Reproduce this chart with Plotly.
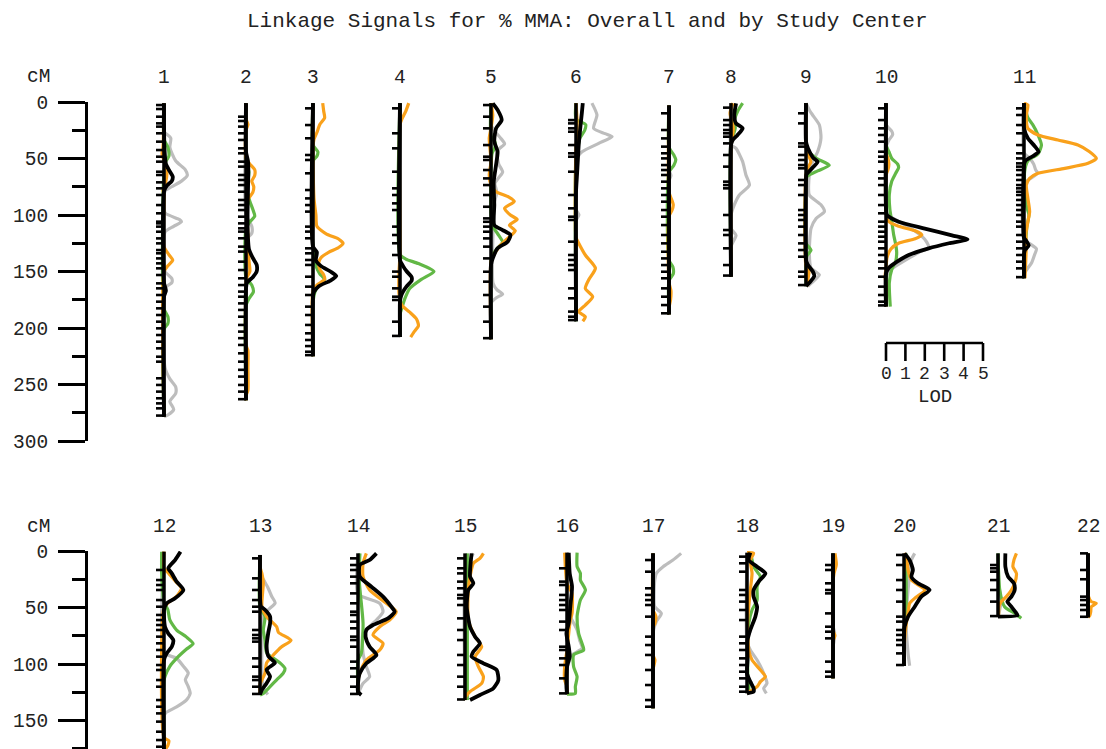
import plotly.graph_objects as go

# ---------------- data ----------------
TITLE = "Linkage Signals for % MMA: Overall and by Study Center"
TOP_CHROMS = ["1", "2", "3", "4", "5", "6", "7", "8", "9", "10", "11"]
BOTTOM_CHROMS = ["12", "13", "14", "15", "16", "17", "18", "19", "20", "21", "22"]
CM_TICKS_TOP = [0, 50, 100, 150, 200, 250, 300]
CM_TICKS_BOTTOM = [0, 50, 100, 150]
LOD_TICKS = [0, 1, 2, 3, 4, 5]

# chromosome extent (start cM, end cM)
CHR_SPAN = {
    "1": (1, 278.5), "2": (1, 264), "3": (1, 225), "4": (1, 208), "5": (1, 210),
    "6": (1, 194), "7": (3, 188), "8": (1, 154.6), "9": (1, 163), "10": (1, 181),
    "11": (1, 156), "12": (0.6, 180), "13": (3.5, 127.4), "14": (2.1, 127.4),
    "15": (2.1, 131.9), "16": (1.5, 126.6), "17": (2.1, 139.2), "18": (1.5, 126),
    "19": (2.1, 112.7), "20": (2.1, 101.8), "21": (2.1, 58.1), "22": (2.1, 58.7),
}

# marker positions (cM)
MARKERS = {
    "1": [2.7, 6.2, 13, 18.9, 21.8, 27.7, 35.1, 42.5, 48.4, 52.8, 61.7, 64.6, 71.1, 76.4, 82.3,
          91.2, 98.5, 105.9, 107.4, 110.3, 114.8, 120.7, 125.1, 131, 133.9, 138.4, 142.8, 147.2,
          153.1, 160.5, 164.9, 170.8, 176.7, 182.6, 188.5, 194.4, 200.3, 206.2, 212.1, 218,
          225.4, 229.8, 244.5, 250.4, 256.3, 262.2, 266.7, 271.1, 277.5],
    "2": [13, 16.8, 21.8, 27.7, 33.6, 41, 45.4, 52.8, 57.2, 64.6, 69, 73.5, 79.4, 86.7, 91.2,
          95.6, 101.5, 107.4, 111.8, 114.7, 120.6, 128, 132.4, 141.3, 148.7, 156, 162, 167.8,
          172.3, 178.2, 184, 190, 197.3, 203.2, 209, 215, 222.4, 229.8, 237, 243, 250.4,
          256.3, 263],
    "3": [5.6, 20.4, 32.1, 46.9, 51.3, 63.1, 77.9, 85.3, 91.2, 97, 110.3, 114.7, 120.6, 129.5,
          133.9, 139.8, 144.2, 154.6, 163.4, 170.8, 181.1, 188.5, 197.3, 204.7, 210.6, 216,
          221, 224],
    "4": [5.6, 27.7, 41, 61.7, 76.4, 82.3, 89.7, 95.6, 110.3, 117.7, 125, 135.4, 150.1, 154.6,
          164.9, 172.3, 175.2, 194.4, 207],
    "5": [2.7, 13, 23.3, 38.1, 48.4, 51.3, 60.2, 67.6, 73.5, 82.3, 92.7, 103, 106, 110.3,
          114.8, 120.7, 128, 138.4, 150.2, 159, 170.8, 181.1, 194.4, 209],
    "6": [16, 18.9, 23.3, 26.3, 38.1, 45.4, 48.4, 61.7, 82.3, 94.1, 101.5, 104.4, 123.6,
          135.4, 139.8, 144.3, 148.7, 164.9, 173.7, 185.5, 190, 193],
    "7": [10, 24.8, 32.2, 39.5, 45.4, 49.9, 55.8, 60.2, 64.6, 70.5, 76.4, 82.3, 88.2, 95.6,
          101.5, 108.9, 117.7, 125.1, 132.5, 138.4, 144.3, 150.2, 156, 164.9, 172.3, 179.7, 187],
    "8": [5, 16, 20.4, 24.8, 27.7, 30.7, 36.6, 46.9, 57.2, 70.5, 73.5, 76.4, 100, 113.3,
          117.7, 129.5, 144.3, 153.6],
    "9": [10, 18.9, 36.6, 39.5, 46.9, 51.3, 55.8, 58.7, 69, 73.5, 82.3, 95.6, 100, 104.4,
          110.3, 117.7, 125.1, 131, 136.9, 150.2, 154.6, 162],
    "10": [5.6, 16, 23.3, 29.2, 35.1, 44, 48.4, 52.8, 61.7, 67.6, 73.5, 82.3, 91.2, 98.5,
           105.9, 110.3, 114.8, 119.2, 123.6, 129.5, 135.4, 141.3, 147.2, 154.6, 163.4,
           170.8, 176.7, 180],
    "11": [5.6, 11.5, 20.4, 27.7, 38.1, 45.4, 49.9, 54.3, 57.2, 60.2, 64.6, 69, 73.5, 76.4,
           79.4, 82.3, 86.7, 91.2, 95.6, 100, 105.9, 110.3, 117.7, 123.6, 129.5, 135.4,
           141.3, 147.2, 155],
    "12": [16.8, 25.7, 30.1, 34.5, 43.4, 49.3, 56.6, 61.1, 65.5, 69.9, 75.8, 81.7, 87.6,
           93.5, 100.9, 105.3, 114.2, 120.1, 131.9, 137.8, 143.7, 151, 159.9, 167.3, 173.2],
    "13": [6.5, 24.2, 34.5, 43.4, 49.3, 53.7, 69.9, 74.3, 77.3, 80.2, 95, 102.4, 111.2,
           114.2, 120.1, 126.5],
    "14": [6.5, 12.4, 16.8, 22.7, 28.6, 37.5, 46.3, 53.7, 56.6, 62.5, 68.4, 75.8, 78.8, 84.7,
           97.9, 103.8, 111.2, 120.1, 126.5],
    "15": [6.5, 15.3, 19.8, 27.1, 33, 38.9, 41.9, 47.8, 59.6, 69.9, 78.8, 92, 100.9, 111.2,
           120.1, 131.4],
    "16": [15.3, 27.1, 30.1, 38.9, 43.4, 47.8, 52.2, 62.5, 69.9, 84.7, 87.6, 95, 100.9,
           112.7, 126],
    "17": [8, 18.3, 33, 38.9, 43.4, 47.8, 58.1, 75.8, 83.2, 92, 105.3, 118.6, 131.9, 137.8],
    "18": [5, 10.9, 18.3, 34.5, 38.9, 44.8, 52.2, 61.1, 75.8, 81.7, 87.6, 95, 100.9, 106.8,
           112.7, 120.1, 124.5],
    "19": [12.4, 16.8, 28.6, 34.5, 37.5, 55.2, 67, 71.4, 77.3, 97.9, 106.8, 111.2],
    "20": [3.5, 12.4, 25.7, 34.5, 44.8, 58.1, 62.5, 69.9, 74.3, 78.8, 83.2, 90.6, 100.9],
    "21": [12.4, 15.3, 18.3, 25.7, 34.5, 44.8, 57.6],
    "22": [2.1, 16.8, 25, 40.4, 43.4, 47.8, 52.2, 58.2],
}

# LOD curves: [cM, LOD] pairs, one dict per series (study centre / overall)
GRAY = {
    "1": [[26, 0], [32, 0.35], [40, 0.3], [52, 0.6], [60, 1.1], [65, 1.2], [70, 0.9], [75, 0.4],
          [79, 0.05], [98, 0.05], [104, 0.8], [106, 0.9], [110, 0.5], [115, 0.05], [150, 0.05],
          [156, 0.4], [160, 0.4], [164, 0.1], [235, 0.05], [245, 0.3], [252, 0.6], [258, 0.6],
          [265, 0.3], [272, 0.5], [277, 0.2]],
    "2": [[100, 0], [110, 0.3], [116, 0.3], [122, 0], [140, 0], [148, 0.1], [155, 0]],
    "5": [[20, 0], [26, 0.2], [32, 0.5], [37, 0.7], [41, 0.45], [45, 0.3], [55, 0.4], [62, 0.6],
          [67, 0.4], [72, 0.2], [80, 0.3], [90, 0.15], [100, 0.1], [115, 0.1], [160, 0.1],
          [166, 0.3], [170, 0.6], [173, 0.3], [178, 0]],
    "6": [[1, 0.82], [11.5, 1.08], [23.3, 0.91], [28, 1.5], [30.7, 1.86], [36.6, 1.17],
          [44, 0.31], [48.4, 0.1], [55, 0], [95, 0], [100, 0.15], [105, 0]],
    "7": [[60, 0], [65, 0.1], [70, 0]],
    "8": [[38, 0], [41, 0.26], [52.8, 0.6], [64.6, 0.77], [73.5, 0.95], [82.3, 0.43],
          [91, 0.17], [100, 0], [112, 0], [118, 0.26], [124, 0.1], [128, 0]],
    "9": [[1, 0], [8, 0.2], [11.5, 0.34], [20.4, 0.69], [32, 0.77], [44, 0.6], [52.8, 0.34],
          [64.6, 0.17], [82.3, 0.17], [91, 0.77], [97, 0.95], [103, 0.52], [111.8, 0.26],
          [132.5, 0.17], [147, 0.26], [153, 0.69], [160.5, 0.26], [163, 0.1]],
    "10": [[20, 0], [26, 0.3], [29, 0.34], [34, 0.14], [40, 0], [95, 0], [100, 0.1], [106, 0.7],
           [112, 1.3], [118, 1.8], [124, 2.1], [129, 2.2], [133, 1.7], [140, 1.0], [147, 0.35],
           [153, 0.05], [158, 0]],
    "11": [[45, 0], [50, 0.3], [55, 0.5], [60, 0.6], [63, 0.7], [68, 0.3], [72, 0], [122, 0],
           [126, 0.35], [130, 0.64], [135, 0.55], [142, 0.4], [147, 0.2], [152, 0]],
    "12": [[90, 0], [95, 0.65], [102, 1.0], [108, 1.25], [114, 1.1], [120, 1.25], [126, 1.35],
           [132, 1.15], [138, 0.65], [143, 0.1], [146, 0]],
    "13": [[20, 0], [26, 0.2], [32, 0.4], [40, 0.6], [46, 0.78], [52, 0.43], [58, 0.17],
           [80, 0.1], [120, 0.15], [127, 0.4]],
    "14": [[38, 0], [46.3, 1.12], [53.7, 1.29], [61.1, 0.95], [72.9, 0.26], [90.6, 0.26],
           [102.4, 0.43], [111.2, 0.6], [117.1, 0.26], [123, 0.09]],
    "15": [[2.1, 0.43], [10.9, 0.17], [20, 0]],
    "16": [[50, 0], [58.1, 0.17], [69.9, 0.52], [78.8, 0.65], [86.1, 0.78], [92, 0.26],
           [102.4, 0.03]],
    "17": [[2.1, 1.45], [8, 1.03], [13.9, 0.52], [19.8, 0.17], [25.7, 0.09], [49.3, 0.09],
           [55.2, 0.43], [62.5, 0.17], [69.9, 0.03]],
    "18": [[80, 0], [87.6, 0.17], [96.5, 0.52], [108.3, 0.86], [117.1, 1.03], [121.5, 0.86],
           [126, 1.0]],
    "19": [[66, 0], [72, 0.08], [80, 0.05], [85, 0]],
    "20": [[2.1, 0.55], [8, 0.38], [19.8, 0.29], [34.5, 0.21], [60, 0.1], [90.6, 0.21],
           [101.5, 0.29]],
    "21": [[30, 0.05], [45, 0.15], [55, 0.05]],
}

GREEN = {
    "1": [[33, 0], [40, 0.2], [48, 0.25], [54, 0.05], [183, 0], [190, 0.2], [196, 0.2], [201, 0]],
    "2": [[50, 0], [55, 0.05], [62, 0.15], [70, 0.1], [78, 0.05], [88, 0.2], [95, 0.35],
          [101, 0.45], [106, 0.2], [112, 0], [155, 0], [162, 0.3], [168, 0.38], [174, 0.15],
          [180, 0]],
    "3": [[38, 0], [44, 0.25], [48, 0.2], [52, 0], [128, 0], [135, 0.1], [145, 0.15],
          [152, 0.35], [157, 0.6], [162, 0.3], [168, 0.1], [178, 0]],
    "4": [[135, 0], [139, 0.3], [143, 0.95], [150, 1.75], [157, 1.1], [165, 0.5], [174, 0.25],
          [182, 0.1], [188, 0]],
    "5": [[30, 0], [35, 0.2], [40, 0.2], [46, 0.05], [100, 0], [110, 0.1], [118, 0.4],
          [124, 0.6], [130, 0.3], [136, 0.05], [140, 0]],
    "6": [[15, 0], [20, 0.5], [25, 0.45], [32, 0.2], [40, 0.1], [48, 0]],
    "7": [[40, 0], [47, 0.25], [51, 0.35], [56, 0.25], [62, 0], [140, 0], [146, 0.2],
          [152, 0.22], [158, 0]],
    "8": [[1, 0.6], [8, 0.35], [17, 0.17], [23, 0.22], [29, 0.12], [35, 0]],
    "9": [[35, 0], [44, 0.15], [50, 0.55], [56, 1.2], [61, 0.6], [66, 0.05], [72, 0],
          [125, 0], [131, 0.26], [136, 0.05], [140, 0]],
    "10": [[38, 0], [44, 0.15], [50, 0.3], [55, 0.6], [58, 0.65], [63, 0.5], [70, 0.3],
           [82, 0.17], [95, 0.2], [106, 0.3], [118, 0.4], [126, 0.5], [133, 0.55], [141, 0.5],
           [148, 0.3], [160, 0.17], [181, 0.22]],
    "11": [[1, 0], [8, 0.1], [14, 0.2], [20, 0.45], [29, 0.72], [38, 0.9], [46, 0.72],
           [52, 0.2], [62, 0.03], [90, 0.1], [100, 0.25], [110, 0.15], [120, 0.1], [130, 0.05],
           [156, 0]],
    "12": [[0.6, -0.12], [20, -0.12], [45, 0], [52, 0.2], [61, 0.3], [70, 0.65], [76, 1.15],
           [82, 1.5], [87, 1.15], [95, 0.65], [102, 0.3], [111, 0.05], [115, 0]],
    "13": [[50, 0], [58, 0.26], [70, 0.17], [79, 0.26], [90, 0.34], [99, 1.03], [104, 1.29],
           [108, 1.2], [114, 0.86], [120, 0.52], [126, 0.17]],
    "14": [[2.1, 0.1], [22.7, 0.05], [37.5, 0.12], [64, 0.26], [90.6, 0.17], [96.5, 0]],
    "15": [[2.1, 0.12], [131.9, 0.12]],
    "16": [[1.5, 0.52], [13.9, 0.52], [19.8, 0.69], [25.7, 0.69], [34.5, 0.95], [43.4, 0.69],
           [58.1, 0.52], [72.9, 0.6], [81.7, 0.77], [87.6, 0.86], [92, 0.34], [102.4, 0.34],
           [111.2, 0.52], [120.1, 0.43], [126, 0.43]],
    "18": [[2.1, 0.17], [13.9, 0.34], [22.7, 0.69], [31.6, 0.52], [43.4, 0.52], [52.2, 0.26],
           [64, 0.09], [78.8, 0.03], [114, 0.05], [121, 0.1]],
    "20": [[2.1, 0.1], [60, 0.1], [70, 0]],
    "21": [[2.1, 0], [34.5, 0.09], [49.3, 0.34], [55.2, 0.86], [59.6, 1.2]],
}

ORANGE = {
    "1": [[40, -0.05], [46, -0.1], [52, 0], [57, 0.1], [62, 0.15], [70, 0.1], [78, -0.05],
          [82, 0], [128, 0], [135, 0.25], [140, 0.45], [145, 0.2], [150, 0]],
    "2": [[15, 0], [20, 0.1], [25, 0], [50, 0], [55, 0.2], [60, 0.45], [65, 0.45], [70, 0.3],
          [75, 0.4], [80, 0.35], [85, 0.15], [90, 0.05], [120, 0.1], [140, 0.15], [150, 0.2],
          [155, 0.05], [160, 0], [215, 0], [220, 0.1], [235, 0.1], [255, 0.1], [260, 0]],
    "3": [[1, 0.5], [8, 0.55], [14, 0.6], [20, 0.35], [27, 0.2], [33, 0.05], [40, 0],
          [85, 0.05], [100, 0.15], [110, 0.2], [117, 0.7], [121, 1.3], [125, 1.55], [129, 1.3],
          [133, 0.8], [138, 0.4], [142, 0.3], [148, 0.35], [153, 0.55], [157, 0.6], [162, 0.2],
          [167, 0]],
    "4": [[1, 0.45], [8, 0.3], [15, 0.1], [20, 0], [135, 0], [150, -0.05], [170, -0.05],
          [180, 0.1], [186, 0.5], [192, 0.85], [198, 0.95], [204, 0.7], [208, 0.55]],
    "5": [[1, 0], [11.5, 0.09], [23.3, 0], [32, -0.09], [52.8, 0], [64.6, -0.09], [73.5, 0],
          [79.4, 0.26], [84, 0.9], [88, 1.2], [94, 0.7], [100, 1.0], [104, 1.35], [109, 0.95],
          [114, 1.25], [120, 0.9], [128, 0.43], [135.4, 0.14], [141.3, 0]],
    "6": [[15, 0.05], [30, 0.05], [40, 0], [120, 0], [123.6, 0.1], [135.4, 0.48], [147, 1.0],
          [157.5, 0.65], [165, 0.48], [172.3, 0.86], [179.7, 0.48], [185.5, 0.14], [190, 0.48],
          [194, 0.35]],
    "7": [[80, 0], [87, 0.15], [91, 0.22], [96, 0.15], [101, 0], [160, 0], [167, 0.1],
          [175, 0.08], [182, 0]],
    "8": [[1, 0.1], [10, -0.05], [23, 0.12], [33, 0.05], [40, 0]],
    "9": [[40, 0], [46, 0.1], [53, 0.25], [58, 0.1], [64, 0], [145, 0], [150, 0.15],
          [157, 0.1], [163, 0.05]],
    "10": [[45, 0], [50, 0.1], [55, 0.15], [60, 0.1], [65, 0], [98, 0], [105, 0.1], [110, 0.65],
           [114, 1.5], [117.7, 1.85], [121, 1.5], [125, 0.65], [130, 0.25], [138, 0.05],
           [147, 0], [155, -0.05], [160, 0]],
    "11": [[2.7, 0.2], [11.5, 0.12], [23.3, 0.2], [29.2, 0.72], [33.6, 1.75], [38, 2.78],
           [44, 3.38], [49.9, 3.73], [54.3, 3.3], [58.7, 2.1], [63.1, 0.72], [67.6, 0.29],
           [73.5, 0.12], [85.3, 0.2], [97, 0.29], [106, 0.2], [117.7, 0.09], [123.6, 0.12],
           [156, 0.05]],
    "12": [[15, 0], [20, 0.25], [27, 0.6], [33, 0.9], [40, 0.65], [46, 0.2], [50, 0], [165, 0],
           [168, 0.25], [172, 0.2], [175, 0.1]],
    "13": [[14, 0], [20, 0.1], [28, 0.17], [49, 0.1], [58, 0.34], [67, 0.86], [72, 0.95],
           [79, 1.6], [85, 1.1], [92, 0.69], [99, 0.34], [108, 0.26], [114, 0.1], [118, 0]],
    "14": [[2.1, 0.43], [10.9, 0.26], [22.7, 0.26], [34.5, 0.6], [46.3, 1.46], [53.7, 1.97],
           [61.1, 1.63], [67, 1.12], [74.3, 0.77], [81.7, 1.29], [87.6, 1.12], [96.5, 0.43],
           [108.3, 0.09], [115, 0]],
    "15": [[2.1, 0.95], [6.5, 0.77], [10.9, 0.43], [22.7, 0.26], [34.5, 0.17], [61.1, 0.17],
           [75.8, 0.52], [84.7, 0.86], [93.5, 0.52], [102.4, 0.69], [111.2, 0.95], [117.1, 0.86],
           [124.5, 0.26], [130.4, 0]],
    "16": [[1.5, -0.12], [28.6, 0], [37.5, 0.26], [55.2, 0.26], [61.1, 0.17], [87.6, 0],
           [102.4, -0.12], [114.2, -0.12], [120, 0]],
    "17": [[52, 0], [58, 0.15], [64, 0.1], [68, 0], [92, 0], [96.5, 0.1], [101, 0.05], [105, 0]],
    "18": [[2.1, 0.34], [8, 0.17], [19.8, 0.26], [34.5, 0.17], [49.3, 0.09], [64, 0.03],
           [87.6, 0.09], [96.5, 0.26], [105.3, 0.69], [111.2, 0.95], [115.6, 0.69], [120.1, 0.52]],
    "19": [[2.1, 0.1], [12, 0.17], [20, 0.05], [28, 0], [70, 0], [75, 0.1], [80, 0]],
    "20": [[5, 0.12], [16.8, 0.21], [25.7, 0.38], [34.5, 1.07], [41.9, 0.55], [46.3, 0.29],
           [55.2, 0.21], [64, 0.12], [78.8, 0.03]],
    "21": [[2.1, 0.95], [8, 0.82], [13.9, 0.77], [19.8, 0.95], [28.6, 0.86], [34.5, 0.69],
           [40.4, 0.43], [44.8, 0.17], [49.3, 0.05], [56.6, 0.03]],
    "22": [[35, 0], [40.4, 0.03], [44.8, 0.17], [46.3, 0.43], [49.3, 0.17], [53.7, 0.14],
           [57, 0.09]],
}

BLACK = {
    "1": [[1, 0], [40, 0.02], [55, 0.1], [60, 0.25], [66, 0.45], [70, 0.4], [74, 0.15], [79, 0],
          [160, 0], [167, 0.1], [172, 0]],
    "2": [[1, 0], [44, 0], [52, 0.1], [60, 0.12], [100, 0.08], [120, 0.1], [130, 0.15],
          [138, 0.35], [144, 0.55], [150, 0.55], [155, 0.35], [160, 0.05], [165, 0]],
    "3": [[1, 0], [128, 0], [133, 0.2], [140, 0.15], [145, 0.4], [150, 0.9], [154, 1.2],
          [158, 0.9], [163, 0.3], [168, 0.05], [172, 0]],
    "4": [[1, 0], [140, 0], [145, 0.15], [150, 0.35], [155, 0.6], [158, 0.6], [163, 0.35],
          [168, 0.15], [172, 0.05], [176, 0]],
    "5": [[1.2, 0.09], [7, 0.34], [16, 0.55], [23.3, 0.26], [35, 0.17], [44, 0.34],
          [55.8, 0.26], [70.5, 0.14], [91, 0.17], [109, 0.17], [113.3, 0.6], [117.7, 1.0],
          [123.6, 0.86], [129.5, 0.34], [138.4, 0.09], [144, 0]],
    "6": [[1, 0.35], [10, 0.3], [23, 0.22], [38, 0.14], [50, 0.1], [65, 0.05], [80, 0]],
    "8": [[1.2, 0.26], [11.5, 0.17], [18.9, 0.26], [23.3, 0.6], [29.2, 0.34], [33.6, 0.09],
          [38, 0]],
    "9": [[1, 0], [35, 0], [41, 0.1], [49, 0.35], [53, 0.6], [58, 0.35], [64, 0.03], [68, 0],
          [140, 0], [144, 0.09], [150, 0.35], [154, 0.43], [160, 0.17], [163, 0]],
    "10": [[1, 0], [94, 0], [100, 0.05], [106, 0.65], [112, 2.0], [118, 3.4], [121.5, 4.2],
           [125, 3.25], [129.5, 2.2], [135.4, 1.17], [141.3, 0.57], [147, 0.14], [152, 0]],
    "11": [[1, 0], [23, 0], [32, 0.2], [39, 0.55], [44, 0.75], [48, 0.45], [52, 0.07], [56, 0],
           [120, 0], [123, 0.12], [127, 0.24], [131, 0.05], [135, 0]],
    "12": [[0.6, 0.85], [8, 0.57], [15.3, 0.22], [19.8, 0.4], [27.1, 0.65], [34.5, 1.0],
           [41.9, 0.57], [46.3, 0.14], [52.2, 0], [67, 0.05], [72.9, 0.22], [78.8, 0.48],
           [84.7, 0.4], [90.6, 0.14], [96.5, 0]],
    "13": [[3.5, 0], [40, 0], [49, 0.05], [52, 0.26], [58, 0.52], [64, 0.52], [72, 0.43],
           [84, 0.34], [93, 0.43], [99, 0.77], [105, 0.34], [111, 0.52], [117, 0.34],
           [123, 0.09], [127, 0]],
    "14": [[2.1, 0.95], [8, 0.6], [12.4, 0.09], [22.7, 0.09], [31.6, 0.69], [40.4, 1.29],
           [49.3, 1.72], [53.7, 1.89], [59.6, 1.55], [65.5, 0.77], [69.9, 0.43], [75.8, 0.39],
           [84.7, 0.6], [92, 0.95], [99.4, 0.43], [108.3, 0.09], [117.1, 0], [124.5, 0],
           [127.4, 0.17]],
    "15": [[2.1, 0.34], [10.9, 0.29], [22.7, 0.26], [28.6, 0.43], [34.5, 0.17], [49.3, 0.09],
           [67, 0.26], [75.8, 0.52], [81.7, 0.77], [89.1, 0.43], [93.5, 0.34], [99.4, 0.95],
           [105.3, 1.63], [114.2, 1.72], [121.5, 1.46], [127.4, 0.77], [131.9, 0.26]],
    "16": [[1.5, 0.09], [19.8, 0.14], [31.6, 0.26], [49.3, 0.17], [64, 0.09], [72.9, -0.03],
           [84.7, 0.09], [93.5, 0.14], [102.4, 0], [120.1, -0.03], [126.6, 0]],
    "18": [[1.5, 0.17], [8, 0.09], [13.9, 0.52], [19.8, 0.95], [27.1, 0.6], [34.5, 0.34],
           [40.4, 0.34], [49.3, 0.52], [58.1, 0.43], [69.9, 0.17], [78.8, 0.03], [96.5, 0.03],
           [108.3, 0], [115.6, 0.17], [121.5, 0.34], [124.5, 0.34]],
    "20": [[2.1, 0.03], [8, 0.29], [16.8, 0.46], [22.7, 0.38], [28.6, 0.72], [34.5, 1.32],
           [40.4, 0.89], [49.3, 0.55], [58.1, 0.21], [67, 0.03], [75, 0]],
    "21": [[2.1, 0.38], [13.9, 0.38], [22.7, 0.52], [28.6, 0.82], [34.5, 0.86], [40.4, 0.69],
           [44.8, 0.48], [49.3, 0.69], [55.2, 0.95], [57, 1.0]],
}

# ---------------- layout / style ----------------
W, H = 1106, 749
PX_PER_LOD = 19.4
PX_PER_CM = 1.13
FONT = "Liberation Mono, Courier New, monospace"
TEXT_COLOR = "#222222"
CHR_X_PX = {
    "1": 164, "2": 246, "3": 313, "4": 400, "5": 491, "6": 576, "7": 669, "8": 731,
    "9": 806, "10": 886, "11": 1024,
    "12": 164, "13": 260, "14": 358, "15": 465, "16": 567, "17": 653, "18": 747,
    "19": 833, "20": 904, "21": 998, "22": 1088,
}
TOP_ZERO_PX, BOTTOM_ZERO_PX = 102, 551
AXIS_X_PX = 86
MARK_TICK_PX = 8
LOD_BAR_X_PX = 886
LOD_BAR_Y_PX, LOD_BAR_TICK_PX = 343, 361
CENTER_SERIES = [("gray", GRAY, "#bdbdbd", 3.2), ("green", GREEN, "#62b846", 3.2),
                 ("orange", ORANGE, "#f9a11b", 3.2)]
OVERALL_SERIES = ("black", BLACK, "#000000", 3.8)

X_MAX = W / PX_PER_LOD
bottom_max = (H - BOTTOM_ZERO_PX) / PX_PER_CM


def cx(c):
    return CHR_X_PX[c] / PX_PER_LOD


def full_curve(pts, span):
    s, e = span
    pts = list(pts)
    if pts[0][0] > s + 0.5:
        pts = [[s, 0]] + pts
    if pts[-1][0] < e - 0.5:
        pts = pts + [[e, 0]]
    return pts


fig = go.Figure()


def add_series(chroms, xa, ya, name, data, color, width):
    lx, ly = [], []
    for c in chroms:
        span = CHR_SPAN[c]
        pts = data.get(c, [[span[0], 0], [span[1], 0]])
        pts = full_curve(pts, span)
        lx += [cx(c) + p[1] for p in pts] + [None]
        ly += [p[0] for p in pts] + [None]
    fig.add_trace(go.Scatter(x=lx, y=ly, mode="lines", xaxis=xa, yaxis=ya, name=name,
                             line=dict(color=color, width=width, shape="spline",
                                       smoothing=0.6),
                             connectgaps=False, hoverinfo="skip", showlegend=False))


for chroms, xa, ya in [(TOP_CHROMS, "x", "y"), (BOTTOM_CHROMS, "x2", "y2")]:
    # study-centre LOD curves
    for name, data, color, width in CENTER_SERIES:
        add_series(chroms, xa, ya, name, data, color, width)
    # chromosome bars
    bx, by = [], []
    for c in chroms:
        s, e = CHR_SPAN[c]
        bx += [cx(c), cx(c), None]
        by += [s, e, None]
    fig.add_trace(go.Scatter(x=bx, y=by, mode="lines", xaxis=xa, yaxis=ya,
                             line=dict(color="black", width=3.5), hoverinfo="skip",
                             showlegend=False))
    # marker ticks
    tx, ty = [], []
    for c in chroms:
        for m in MARKERS[c]:
            tx += [cx(c) - MARK_TICK_PX / PX_PER_LOD, cx(c), None]
            ty += [m, m, None]
    fig.add_trace(go.Scatter(x=tx, y=ty, mode="lines", xaxis=xa, yaxis=ya,
                             line=dict(color="black", width=2.6), hoverinfo="skip",
                             showlegend=False))
    # overall LOD curve
    add_series(chroms, xa, ya, *OVERALL_SERIES)

# LOD scale bar (top panel, in LOD units)
bar_x0 = LOD_BAR_X_PX / PX_PER_LOD
bar_y = (LOD_BAR_Y_PX - TOP_ZERO_PX) / PX_PER_CM
bar_t = (LOD_BAR_TICK_PX - TOP_ZERO_PX) / PX_PER_CM
sx = [bar_x0 + LOD_TICKS[0], bar_x0 + LOD_TICKS[-1], None]
sy = [bar_y, bar_y, None]
for v in LOD_TICKS:
    sx += [bar_x0 + v, bar_x0 + v, None]
    sy += [bar_y, bar_t, None]
fig.add_trace(go.Scatter(x=sx, y=sy, mode="lines", xaxis="x", yaxis="y",
                         line=dict(color="black", width=2.6), hoverinfo="skip",
                         showlegend=False))

annotations = []


def ann(text, x, y_px, xref="paper", size=19.5, xanchor="center"):
    annotations.append(dict(text=text, x=x, y=1 - y_px / H, xref=xref, yref="paper",
                            showarrow=False, xanchor=xanchor, yanchor="middle",
                            font=dict(family=FONT, size=size, color=TEXT_COLOR)))


ann(TITLE, 588 / W, 21, size=21)
ann("cM", 38 / W, 77)
ann("cM", 38 / W, 527)
for c in TOP_CHROMS:
    ann(c, cx(c), 78, xref="x")
for c in BOTTOM_CHROMS:
    ann(c, cx(c), 527, xref="x2")
for v in LOD_TICKS:
    ann(str(v), bar_x0 + v, 374, xref="x", size=18)
ann("LOD", bar_x0 + (LOD_TICKS[0] + LOD_TICKS[-1]) / 2, 397, xref="x", size=19)

axis_common = dict(anchor="free", position=AXIS_X_PX / W, showgrid=False, zeroline=False,
                   showline=True, linecolor="black", linewidth=3, ticks="outside",
                   ticklen=27, tickwidth=3, tickcolor="black", ticklabelstandoff=6,
                   tickfont=dict(family=FONT, size=19.5, color=TEXT_COLOR))

fig.update_layout(
    width=W, height=H, margin=dict(l=0, r=0, t=0, b=0),
    paper_bgcolor="white", plot_bgcolor="white", template="none",
    showlegend=False, annotations=annotations,
    xaxis=dict(domain=[0, 1], range=[0, X_MAX], visible=False, anchor="y", fixedrange=True),
    xaxis2=dict(domain=[0, 1], range=[0, X_MAX], visible=False, anchor="y2", fixedrange=True),
    yaxis=dict(domain=[1 - (TOP_ZERO_PX + 300 * PX_PER_CM) / H, 1 - TOP_ZERO_PX / H],
               range=[300, 0], tickmode="array", tickvals=CM_TICKS_TOP,
               minor=dict(tickvals=[25, 75, 125, 175, 225, 275], ticks="outside",
                          ticklen=13, tickwidth=3, tickcolor="black"),
               **axis_common),
    yaxis2=dict(domain=[0, 1 - BOTTOM_ZERO_PX / H], range=[bottom_max, 0],
                tickmode="array", tickvals=CM_TICKS_BOTTOM,
                minor=dict(tickvals=[25, 75, 125, 175], ticks="outside",
                           ticklen=13, tickwidth=3, tickcolor="black"),
                **axis_common),
)

# remove the browser's default page margin so the figure sits at the window origin
fig.write_html("out.html", config={"displayModeBar": False, "staticPlot": True},
               post_script="document.body.style.margin='0';document.body.style.overflow='hidden';")
